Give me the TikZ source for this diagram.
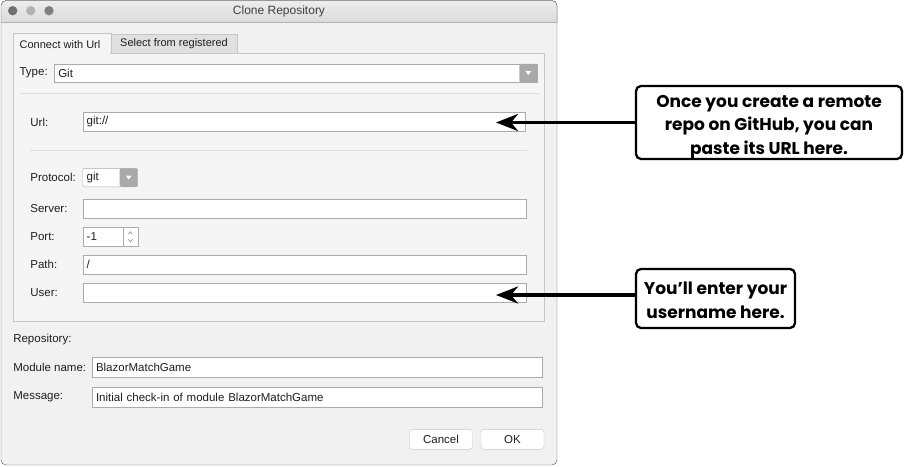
\documentclass[tikz,border=0pt]{standalone}
\usepackage{fontspec}
\setmainfont{Liberation Sans}
\newfontfamily\notefont{Poppins}
\usetikzlibrary{positioning, arrows.meta}

\definecolor{winbg}{HTML}{F1F1F1}
\definecolor{panelbg}{HTML}{F5F5F5}
\definecolor{frameline}{HTML}{5A5A5A}
\definecolor{fieldline}{HTML}{ABABAB}
\definecolor{panelline}{HTML}{C6C6C6}
\definecolor{sepline}{HTML}{DCDCDC}
\definecolor{uitext}{HTML}{1E1E1E}
\definecolor{btngray}{HTML}{A9A9A9}

\begin{document}
\begin{tikzpicture}[x=1pt,y=-1pt,every node/.style={inner sep=0pt,outer sep=0pt},
    ui/.style={font=\fontsize{11.5}{13}\selectfont,text=uitext},
    lbl/.style={ui,anchor=west},
    field/.style={ui,draw=fieldline,fill=white,anchor=north west,inner xsep=4pt,minimum height=19pt,align=left},
    dropbtn/.style={fill=btngray,rounded corners=2pt,anchor=north east,minimum width=18pt,minimum height=18.5pt},
    pushbtn/.style={ui,draw=panelline,fill=white,rounded corners=3pt,anchor=north west,minimum width=63pt,minimum height=20pt},
    note/.style={draw,line width=2.3pt,fill=white,rounded corners=5pt,align=center,
        font=\notefont\bfseries\fontsize{17}{23.5}\selectfont},
    pointer/.style={line width=3.6pt,-{Stealth[length=22pt,width=17pt,inset=7pt]}}]
    \useasboundingbox (0,0) rectangle (904,466);

    % ventana
    \fill[winbg,rounded corners=5pt] (1,0.5) rectangle (557,465);
    \begin{scope}
        \clip[rounded corners=5pt] (1,0.5) rectangle (557,465);
        \fill[top color=black!7,bottom color=black!14] (0,0) rectangle (560,22);
        \draw[black!30] (0,22) -- (560,22);
    \end{scope}
    \draw[frameline,rounded corners=5pt] (1,0.5) rectangle (557,465);
    \fill[black!56] (12.7,10.7) circle (4.7);
    \fill[black!30] (30.7,10.7) circle (4.7);
    \fill[black!50] (49,10.7) circle (4.7);
    \node[ui,font=\fontsize{12}{14}\selectfont,text=black!75] (title) at (279,11) {Clone Repository};

    % pestañas y panel
    \node[ui,font=\fontsize{11}{13}\selectfont,draw=panelline,fill=black!12,anchor=north west,minimum width=126.6pt,minimum height=19pt] (regtab) at (110.7,34.3) {Select from registered};
    \node[draw=panelline,fill=panelbg,anchor=north west,minimum width=531pt,minimum height=268.2pt] (panel) at (13.3,53.3) {};
    \fill[panelbg] (13.8,33.3) rectangle (110.2,53.8);
    \draw[panelline] (13.3,53.3) |- (110.7,33.3) -- (110.7,53.3);
    \node[ui,font=\fontsize{11}{13}\selectfont] (urltab) at (60,44.3) {Connect with Url};

    \node[lbl] (typelbl) at (19.6,73) {Type:};
    \node[field,text width=475pt,minimum height=18.5pt] (typebox) at (54.3,63.8) {Git};
    \node[dropbtn] (typebtn) at (typebox.north east) {};
    \fill[white] ([xshift=-3pt,yshift=2pt]typebtn.center) -- ++(6,0) -- ++(-3,4) -- cycle;
    \draw[sepline] (19.6,92.7) -- (539,92.7);

    \node[lbl] (urllbl) at (30.4,122.5) {Url:};
    \node[field,text width=434.5pt] (urlbox) at (82.7,112.5) {git://};
    \draw[sepline] (30.4,150.5) -- (527,150.5);

    \node[lbl] (protolbl) at (30.4,177.5) {Protocol:};
    \node[field,text width=47pt,minimum height=18.5pt,rounded corners=2pt] (protobox) at (82.7,168.3) {git};
    \node[dropbtn] (protobtn) at (protobox.north east) {};
    \fill[white] ([xshift=-3pt,yshift=2pt]protobtn.center) -- ++(6,0) -- ++(-3,4) -- cycle;

    \node[lbl] (serverlbl) at (30.4,208.5) {Server:};
    \node[field,text width=435pt] (serverbox) at (82.7,199.2) {};

    \node[lbl] (portlbl) at (30.4,236.5) {Port:};
    \node[field,text width=32.3pt] (portbox) at (82.7,227.3) {-1};
    \node[draw=fieldline,fill=white,anchor=north west,minimum width=14.7pt,minimum height=19pt] (portspin) at (portbox.north east) {};
    \draw[black!45,line width=0.6pt] ([xshift=-2pt,yshift=2.5pt]portspin.center) -- ++(2,-2.5) -- ++(2,2.5);
    \draw[black!45,line width=0.6pt] ([xshift=-2pt,yshift=-2.5pt]portspin.center) -- ++(2,2.5) -- ++(2,-2.5);

    \node[lbl] (pathlbl) at (30.4,264.5) {Path:};
    \node[field,text width=435pt] (pathbox) at (82.7,255) {/};

    \node[lbl] (userlbl) at (30.4,293) {User:};
    \node[field,text width=435pt] (userbox) at (82.7,283.5) {};

    % repositorio
    \node[lbl] (repolbl) at (13.3,340) {Repository:};
    \node[lbl] (modlbl) at (13.3,367.5) {Module name:};
    \node[field,text width=442pt,minimum height=20pt] (modbox) at (92,357.5) {BlazorMatchGame};
    \node[lbl] (msglbl) at (13.3,397) {Message:};
    \node[field,text width=442pt,minimum height=20pt] (msgbox) at (92,387) {Initial check-in of module BlazorMatchGame};

    \node[pushbtn] (cancelbtn) at (409.5,429.3) {Cancel};
    \node[pushbtn] (okbtn) at (481,429.3) {OK};

    % notas
    \node[note,minimum width=266pt,minimum height=72pt] (urlnote) at (769,122.5) {\rule{0pt}{21.5pt}Once you create a remote\\repo on GitHub, you can\\paste its URL here.};
    \node[note,minimum width=159pt,minimum height=59pt] (usernote) at (715.5,298.5) {\rule{0pt}{16.6pt}You’ll enter your\\username here.};

    \coordinate (urltip) at (496,122.5);
    \coordinate (usertip) at (496,295);
    \draw[pointer] (urlnote.west) -- (urltip);
    \draw[pointer] (usernote.west |- usertip) -- (usertip);
\end{tikzpicture}
\end{document}
